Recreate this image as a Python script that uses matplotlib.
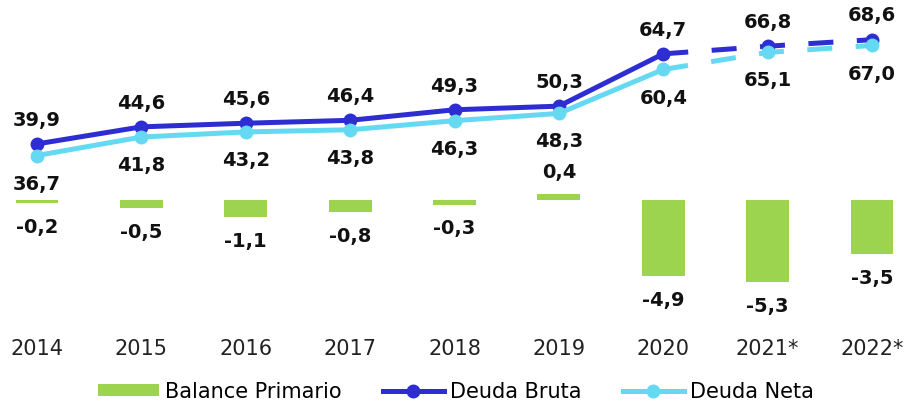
import matplotlib.pyplot as plt
from matplotlib.lines import Line2D
from matplotlib.patches import Patch
import numpy as np

# datos
anios = ['2014', '2015', '2016', '2017', '2018', '2019', '2020', '2021*', '2022*']
balance_primario = [-0.2, -0.5, -1.1, -0.8, -0.3, 0.4, -4.9, -5.3, -3.5]
deuda_bruta = [39.9, 44.6, 45.6, 46.4, 49.3, 50.3, 64.7, 66.8, 68.6]
deuda_neta = [36.7, 41.8, 43.2, 43.8, 46.3, 48.3, 60.4, 65.1, 67.0]

verde = '#9DD44F'
azul = '#2D2DD2'
celeste = '#66D9F2'


def fmt(v):
    return f'{v:.1f}'.replace('.', ',')


fig = plt.figure(figsize=(9.09, 4.02), dpi=100)
ax = fig.add_axes([0, 82 / 402, 1, 320 / 402])
ax2 = ax.twinx()

x = np.arange(len(anios))

# barras (balance primario)
ax.bar(x, balance_primario, width=0.41, color=verde)
for xi, v in zip(x, balance_primario):
    if v >= 0:
        ax.annotate(fmt(v), (xi, v), xytext=(0, 9), textcoords='offset points',
                    ha='center', va='bottom', fontsize=14, fontweight='bold', color='#111111')
    else:
        ax.annotate(fmt(v), (xi, v), xytext=(0, -10), textcoords='offset points',
                    ha='center', va='top', fontsize=14, fontweight='bold', color='#111111')

# lineas (deuda)
lw = 3.6
ms = 9
for serie, col in [(deuda_bruta, azul), (deuda_neta, celeste)]:
    ax2.plot(x[:7], serie[:7], color=col, lw=lw, marker='o', ms=ms, solid_capstyle='butt')
    ax2.plot(x[6:], serie[6:], color=col, lw=lw, dashes=(5, 4.7))
    ax2.plot(x[7:], serie[7:], color=col, lw=0, marker='o', ms=ms)

for xi, v in zip(x, deuda_bruta):
    ax2.annotate(fmt(v), (xi, v), xytext=(0, 11), textcoords='offset points',
                 ha='center', va='bottom', fontsize=14, fontweight='bold', color='#111111')
for xi, v in zip(x, deuda_neta):
    ax2.annotate(fmt(v), (xi, v), xytext=(0, -13), textcoords='offset points',
                 ha='center', va='top', fontsize=14, fontweight='bold', color='#111111')

ax.set_xlim(-0.354, 8.354)
ax.set_ylim(-7.7, 13.0)
ax2.set_ylim(-8.3, 79.8)

ax.set_xticks(x)
ax.set_xticklabels(anios, fontsize=15, color='#222222')
ax.tick_params(axis='x', length=0, pad=14)
ax.set_yticks([])
ax2.set_yticks([])
for a in (ax, ax2):
    for s in a.spines.values():
        s.set_visible(False)

# leyenda
handles = [
    Patch(facecolor=verde, edgecolor='none'),
    Line2D([0], [0], color=azul, lw=lw, marker='o', ms=ms),
    Line2D([0], [0], color=celeste, lw=lw, marker='o', ms=ms),
]
fig.legend(handles, ['Balance Primario', 'Deuda Bruta', 'Deuda Neta'],
           loc='center', bbox_to_anchor=(456 / 909, 0.024), ncol=3, frameon=False,
           fontsize=15, handlelength=2.9, handleheight=0.45, handletextpad=0.3,
           columnspacing=2.0, borderaxespad=0)

fig.savefig('out.png', dpi=100)
